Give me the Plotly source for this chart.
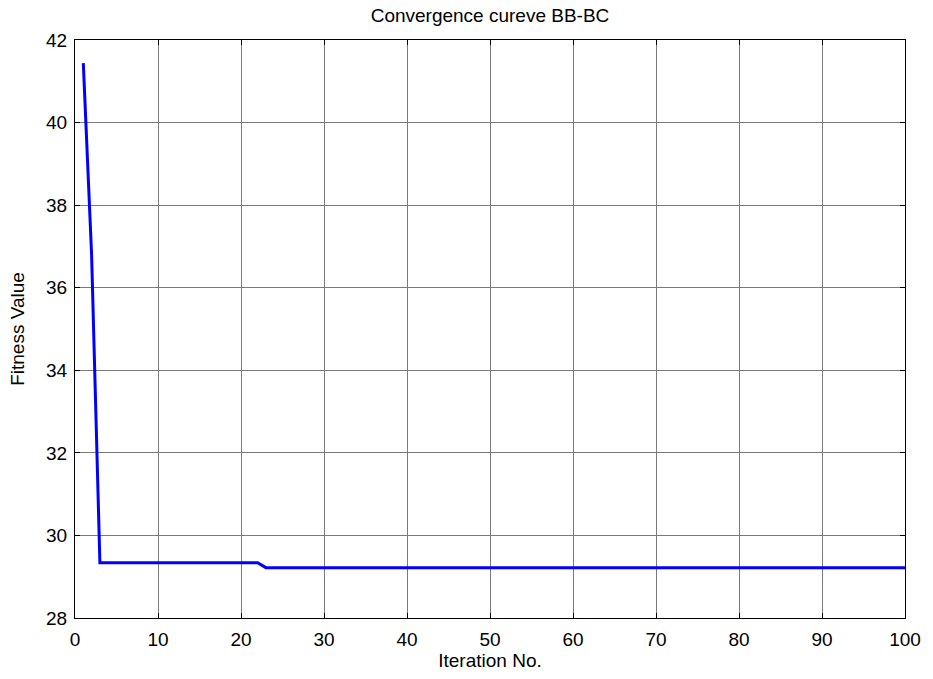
import plotly.graph_objects as go

iterations = list(range(1, 101))
fitness = [41.44, 36.8] + [29.34] * 20 + [29.22] * 78

x_ticks = [0, 10, 20, 30, 40, 50, 60, 70, 80, 90, 100]
y_ticks = [28, 30, 32, 34, 36, 38, 40, 42]

FS = 19

fig = go.Figure()
fig.add_trace(go.Scatter(x=iterations, y=fitness, mode="lines",
                         line=dict(color="#0000ff", width=3), showlegend=False))

axis_common = dict(showline=True, linecolor="black", linewidth=1, mirror="allticks",
                   ticks="inside", ticklen=5, tickcolor="black",
                   showgrid=True, gridcolor="#7a7a7a", gridwidth=1,
                   zeroline=False, tickfont=dict(size=FS, color="black"))

fig.update_xaxes(range=[0, 100], tickvals=x_ticks, ticklabelstandoff=4,
                 title=dict(text="Iteration No.", font=dict(size=FS, color="black"), standoff=4),
                 **axis_common)
fig.update_yaxes(range=[28, 42], tickvals=y_ticks, ticklabelstandoff=3,
                 title=dict(text="Fitness Value", font=dict(size=FS, color="black"), standoff=16),
                 **axis_common)

fig.update_layout(
    width=933, height=679,
    margin=dict(l=75, r=20, t=40, b=57),
    plot_bgcolor="white", paper_bgcolor="white",
    font=dict(family="Liberation Sans, Arial, sans-serif", color="black"),
    title=dict(text="Convergence cureve BB-BC", x=0.5, xref="paper", xanchor="center",
               y=1 - 15 / 679, yref="container", yanchor="middle",
               font=dict(size=FS, color="black")),
)

fig.write_html("out.html", config={"displayModeBar": False},
               post_script="document.body.style.margin='0';")
